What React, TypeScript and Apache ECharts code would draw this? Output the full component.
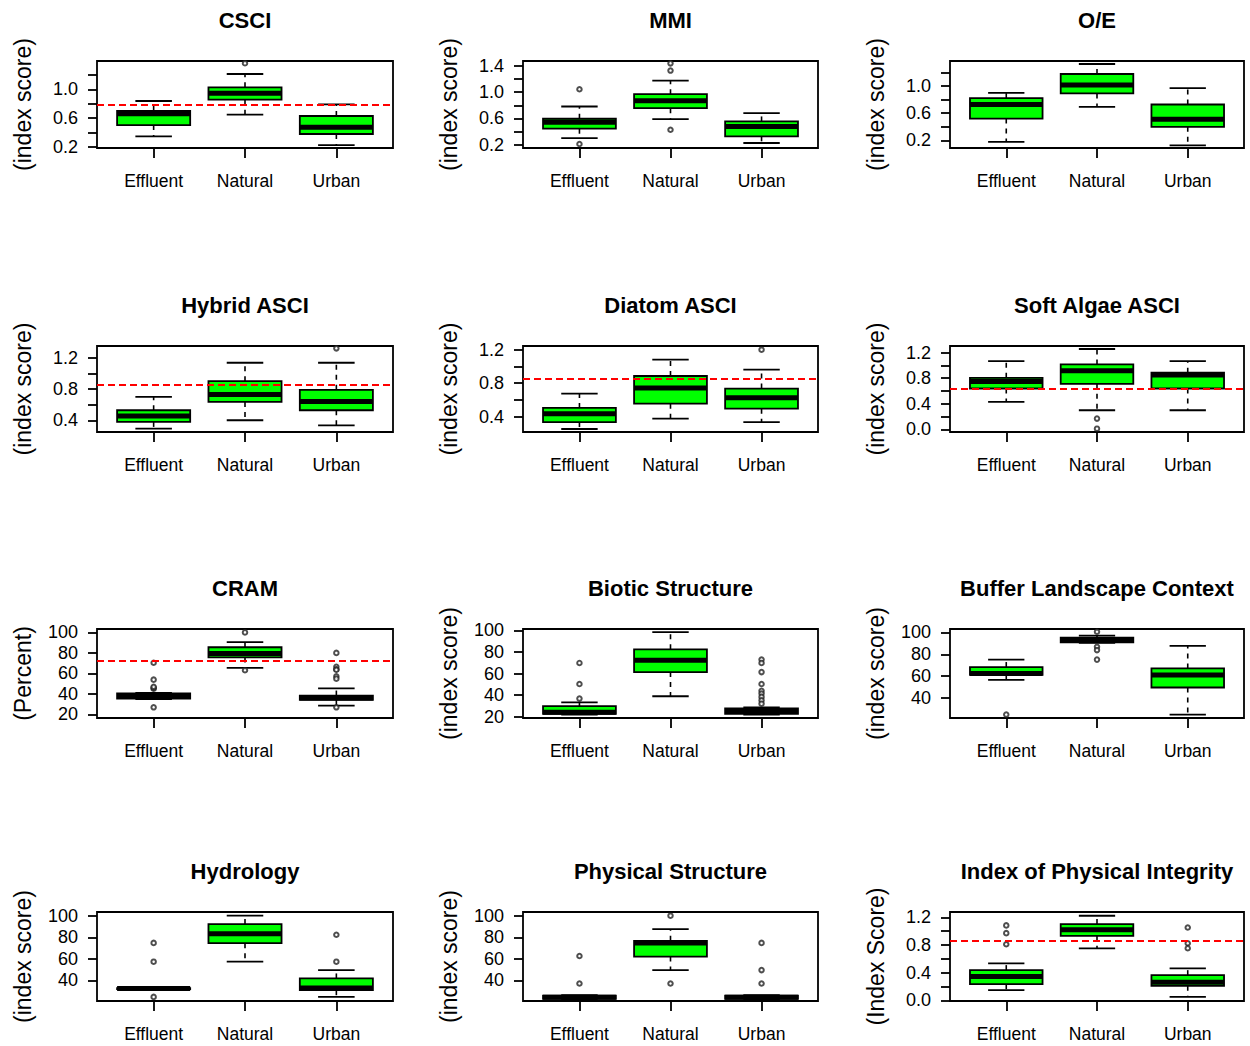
import React, { useEffect, useRef } from "react";
import * as echarts from "echarts";

// Site classes on every panel's x axis
const groups = ["Effluent", "Natural", "Urban"];

// Box statistics per class: [lower whisker, Q1, median, Q3, upper whisker]
const csciBoxes = [
  [0.344, 0.502, 0.66, 0.698, 0.837],
  [0.647, 0.856, 0.944, 1.028, 1.214],
  [0.223, 0.377, 0.47, 0.628, 0.79],
];
const csciOutliers = [[], [1.363], []];

const mmiBoxes = [
  [0.301, 0.443, 0.54, 0.595, 0.782],
  [0.59, 0.757, 0.868, 0.97, 1.177],
  [0.225, 0.327, 0.478, 0.554, 0.681],
];
const mmiOutliers = [[1.045, 0.21], [1.44, 1.33, 0.428], []];

const oeBoxes = [
  [0.175, 0.521, 0.728, 0.822, 0.901],
  [0.694, 0.891, 1.015, 1.178, 1.326],
  [0.126, 0.398, 0.511, 0.728, 0.97],
];
const oeOutliers = [[], [], []];

const hybridBoxes = [
  [0.293, 0.379, 0.456, 0.528, 0.7],
  [0.4, 0.635, 0.73, 0.9, 1.136],
  [0.336, 0.528, 0.64, 0.789, 1.136],
];
const hybridOutliers = [[], [], [1.32]];

const diatomBoxes = [
  [0.253, 0.336, 0.436, 0.504, 0.675],
  [0.376, 0.555, 0.743, 0.886, 1.081],
  [0.336, 0.496, 0.627, 0.735, 0.962],
];
const diatomOutliers = [[], [], [1.2]];

const softBoxes = [
  [0.43, 0.639, 0.75, 0.807, 1.069],
  [0.299, 0.713, 0.917, 1.017, 1.258],
  [0.299, 0.639, 0.85, 0.886, 1.069],
];
const softOutliers = [[], [0.168, 0.01], []];

const cramBoxes = [
  [35, 35.5, 38.5, 40.5, 41],
  [65.4, 75.6, 79.5, 85.5, 90.5],
  [28.6, 34.2, 36.1, 38.4, 45.3],
];
const cramOutliers = [
  [45, 46, 47, 53.9, 70.4, 26.9],
  [100, 63.1],
  [80, 66.4, 64, 63.5, 57.2, 54.9, 26.9],
];

const bioticBoxes = [
  [21.9, 22.5, 24, 29.8, 33.2],
  [38.9, 61.3, 72.3, 82.4, 98.4],
  [21.9, 22.5, 25, 27.5, 28.5],
];
const bioticOutliers = [
  [69.8, 50.2, 36.7],
  [],
  [72.9, 69.8, 61.3, 50.2, 43.9, 41.4, 38.3, 35.1, 32],
];

const bufferBoxes = [
  [56.5, 61.1, 62.5, 68.3, 75.1],
  [90.5, 91, 93.5, 95.3, 97],
  [24.8, 49.6, 61.1, 67, 87.6],
];
const bufferOutliers = [[24.8], [100.6, 86.9, 83.8, 75.1], []];

const hydroBoxes = [
  [32, 32, 32.5, 33, 33],
  [57.4, 74.5, 83.2, 92.2, 100],
  [24.8, 31, 33, 41.9, 49.6],
];
const hydroOutliers = [[74.8, 57.4, 24.8], [], [82.3, 57.4]];

const physBoxes = [
  [22.5, 23, 24.5, 26, 26.5],
  [49.6, 62.1, 74.8, 76.7, 87.6],
  [22.5, 23, 24.5, 26, 26.5],
];
const physOutliers = [[62.7, 37.2], [100, 37.2], [74.8, 49.6, 37.2]];

const ipiBoxes = [
  [0.146, 0.233, 0.345, 0.437, 0.534],
  [0.753, 0.933, 1.02, 1.103, 1.224],
  [0.049, 0.209, 0.26, 0.364, 0.462],
];
const ipiOutliers = [[1.084, 0.972, 0.811], [], [1.054, 0.826, 0.753]];

// Panel titles, y-axis titles, ranges, ticks and reference thresholds
const titles = [
  "CSCI", "MMI", "O/E",
  "Hybrid ASCI", "Diatom ASCI", "Soft Algae ASCI",
  "CRAM", "Biotic Structure", "Buffer Landscape Context",
  "Hydrology", "Physical Structure", "Index of Physical Integrity",
];
const yTitles = [
  "(index score)", "(index score)", "(index score)",
  "(index score)", "(index score)", "(index score)",
  "(Percent)", "(index score)", "(index score)",
  "(index score)", "(index score)", "(Index Score)",
];
const boxSets = [
  csciBoxes, mmiBoxes, oeBoxes,
  hybridBoxes, diatomBoxes, softBoxes,
  cramBoxes, bioticBoxes, bufferBoxes,
  hydroBoxes, physBoxes, ipiBoxes,
];
const outlierSets = [
  csciOutliers, mmiOutliers, oeOutliers,
  hybridOutliers, diatomOutliers, softOutliers,
  cramOutliers, bioticOutliers, bufferOutliers,
  hydroOutliers, physOutliers, ipiOutliers,
];
const yRanges = [
  [0.182, 1.395], [0.149, 1.476], [0.086, 1.37],
  [0.25, 1.35], [0.217, 1.244], [-0.042, 1.305],
  [16.5, 103.3], [18.7, 101.3], [21.7, 103.1],
  [21, 103.4], [21, 103.4], [-0.01, 1.278],
];
const yTicks = [
  [0.2, 0.4, 0.6, 0.8, 1.0, 1.2],
  [0.2, 0.4, 0.6, 0.8, 1.0, 1.2, 1.4],
  [0.2, 0.4, 0.6, 0.8, 1.0, 1.2],
  [0.4, 0.6, 0.8, 1.0, 1.2],
  [0.4, 0.6, 0.8, 1.0, 1.2],
  [0.0, 0.2, 0.4, 0.6, 0.8, 1.0, 1.2],
  [20, 40, 60, 80, 100],
  [20, 40, 60, 80, 100],
  [40, 60, 80, 100],
  [40, 60, 80, 100],
  [40, 60, 80, 100],
  [0.0, 0.2, 0.4, 0.6, 0.8, 1.0, 1.2],
];
const yTickLabels = [
  [0.2, 0.6, 1.0],
  [0.2, 0.6, 1.0, 1.4],
  [0.2, 0.6, 1.0],
  [0.4, 0.8, 1.2],
  [0.4, 0.8, 1.2],
  [0.0, 0.4, 0.8, 1.2],
  [20, 40, 60, 80, 100],
  [20, 40, 60, 80, 100],
  [40, 60, 80, 100],
  [40, 60, 80, 100],
  [40, 60, 80, 100],
  [0.0, 0.4, 0.8, 1.2],
];
const thresholds = [
  0.79, null, null,
  0.858, 0.854, 0.639,
  72.3, null, null,
  null, null, 0.86,
];

// Page layout of the 4 x 3 panel grid (plot frames in px)
const COL_LEFT = [97, 523, 950];
const COL_WIDTH = [296, 295, 294];
const ROW_TOP = [61, 346, 629, 912];
const ROW_HEIGHT = [87, 86, 89, 89];
const X_MIN = 0.38;
const X_MAX = 3.62;

const FONT = "'Liberation Sans', Arial, sans-serif";
const BOX_FILL = "#00FF00";
const INK = "#000000";

function renderBox(params: any, api: any) {
  const x = api.value(0);
  const low = api.coord([x, api.value(1)]);
  const q1 = api.coord([x, api.value(2)]);
  const med = api.coord([x, api.value(3)]);
  const q3 = api.coord([x, api.value(4)]);
  const high = api.coord([x, api.value(5)]);
  const cx = low[0];
  const halfBox = api.size([0.4, 0])[0];
  const halfCap = api.size([0.2, 0])[0];
  const whisker = { stroke: INK, lineWidth: 1.6, lineDash: [5, 5] };
  const solid = { stroke: INK, lineWidth: 1.8 };
  return {
    type: "group",
    children: [
      { type: "line", shape: { x1: cx, y1: q3[1], x2: cx, y2: high[1] }, style: whisker },
      { type: "line", shape: { x1: cx, y1: q1[1], x2: cx, y2: low[1] }, style: whisker },
      { type: "line", shape: { x1: cx - halfCap, y1: high[1], x2: cx + halfCap, y2: high[1] }, style: solid },
      { type: "line", shape: { x1: cx - halfCap, y1: low[1], x2: cx + halfCap, y2: low[1] }, style: solid },
      {
        type: "rect",
        shape: { x: cx - halfBox, y: q3[1], width: halfBox * 2, height: q1[1] - q3[1] },
        style: { fill: BOX_FILL, stroke: INK, lineWidth: 1.8 },
      },
      {
        type: "line",
        shape: { x1: cx - halfBox, y1: med[1], x2: cx + halfBox, y2: med[1] },
        style: { stroke: INK, lineWidth: 5 },
      },
    ],
  };
}

export default function App() {
  const ref = useRef<HTMLDivElement>(null);

  useEffect(() => {
    if (!ref.current) return;
    const chart = echarts.init(ref.current, null, { renderer: "svg" });

    const grid: any[] = [];
    const xAxis: any[] = [];
    const yAxis: any[] = [];
    const series: any[] = [];
    const graphic: any[] = [];

    titles.forEach((title, i) => {
      const r = Math.floor(i / 3);
      const c = i % 3;
      const left = COL_LEFT[c];
      const top = ROW_TOP[r];
      const width = COL_WIDTH[c];
      const height = ROW_HEIGHT[r];
      const isPercent = yRanges[i][1] > 10;

      grid.push({
        left, top, width, height,
        show: true, borderColor: INK, borderWidth: 1.8, backgroundColor: "transparent",
      });

      xAxis.push({
        gridIndex: i,
        type: "value",
        min: X_MIN,
        max: X_MAX,
        axisLine: { show: false, onZero: false },
        splitLine: { show: false },
        axisTick: {
          show: true, inside: false, length: 10, customValues: [1, 2, 3],
          lineStyle: { color: INK, width: 1.8 },
        },
        axisLabel: {
          customValues: [1, 2, 3],
          formatter: (v: number) => groups[Math.round(v) - 1] ?? "",
          fontFamily: FONT, fontSize: 17.5, color: INK, margin: 24,
        },
      });

      yAxis.push({
        gridIndex: i,
        type: "value",
        min: yRanges[i][0],
        max: yRanges[i][1],
        axisLine: { show: false, onZero: false },
        splitLine: { show: false },
        axisTick: {
          show: true, inside: false, length: 9, customValues: yTicks[i],
          lineStyle: { color: INK, width: 1.8 },
        },
        axisLabel: {
          customValues: yTickLabels[i],
          formatter: (v: number) => (isPercent ? String(Math.round(v)) : v.toFixed(1)),
          fontFamily: FONT, fontSize: 18, color: INK, margin: 19,
        },
      });

      series.push({
        type: "custom",
        xAxisIndex: i,
        yAxisIndex: i,
        z: 2,
        silent: true,
        renderItem: renderBox,
        encode: { x: 0, y: [1, 2, 3, 4, 5] },
        data: boxSets[i].map((b, g) => [g + 1, ...b]),
      });

      const pts: number[][] = [];
      outlierSets[i].forEach((vals, g) => vals.forEach((v) => pts.push([g + 1, v])));
      const t = thresholds[i];
      series.push({
        type: "scatter",
        xAxisIndex: i,
        yAxisIndex: i,
        z: 3,
        silent: true,
        symbol: "emptyCircle",
        symbolSize: 4.5,
        itemStyle: { color: "#222", borderWidth: 1.2 },
        data: pts,
        markLine:
          t == null
            ? undefined
            : {
                silent: true,
                symbol: ["none", "none"],
                label: { show: false },
                lineStyle: { color: "#FF0000", type: [7, 4], width: 1.8 },
                data: [{ yAxis: t }],
              },
      });

      graphic.push({
        type: "text",
        x: left + width / 2,
        y: top - 41,
        style: {
          text: title, fill: INK, font: `bold 22px ${FONT}`,
          align: "center", verticalAlign: "middle",
        },
      });
      graphic.push({
        type: "text",
        x: left - 74,
        y: top + height / 2,
        rotation: Math.PI / 2,
        style: {
          text: yTitles[i], fill: INK, font: `23px ${FONT}`,
          align: "center", verticalAlign: "middle",
        },
      });
    });

    chart.setOption({
      animation: false,
      backgroundColor: "#ffffff",
      grid, xAxis, yAxis, series, graphic,
    });

    return () => chart.dispose();
  }, []);

  return (
    <div
      ref={ref}
      style={{ position: "fixed", left: 0, top: 0, width: 1250, height: 1046, background: "#fff" }}
    />
  );
}
